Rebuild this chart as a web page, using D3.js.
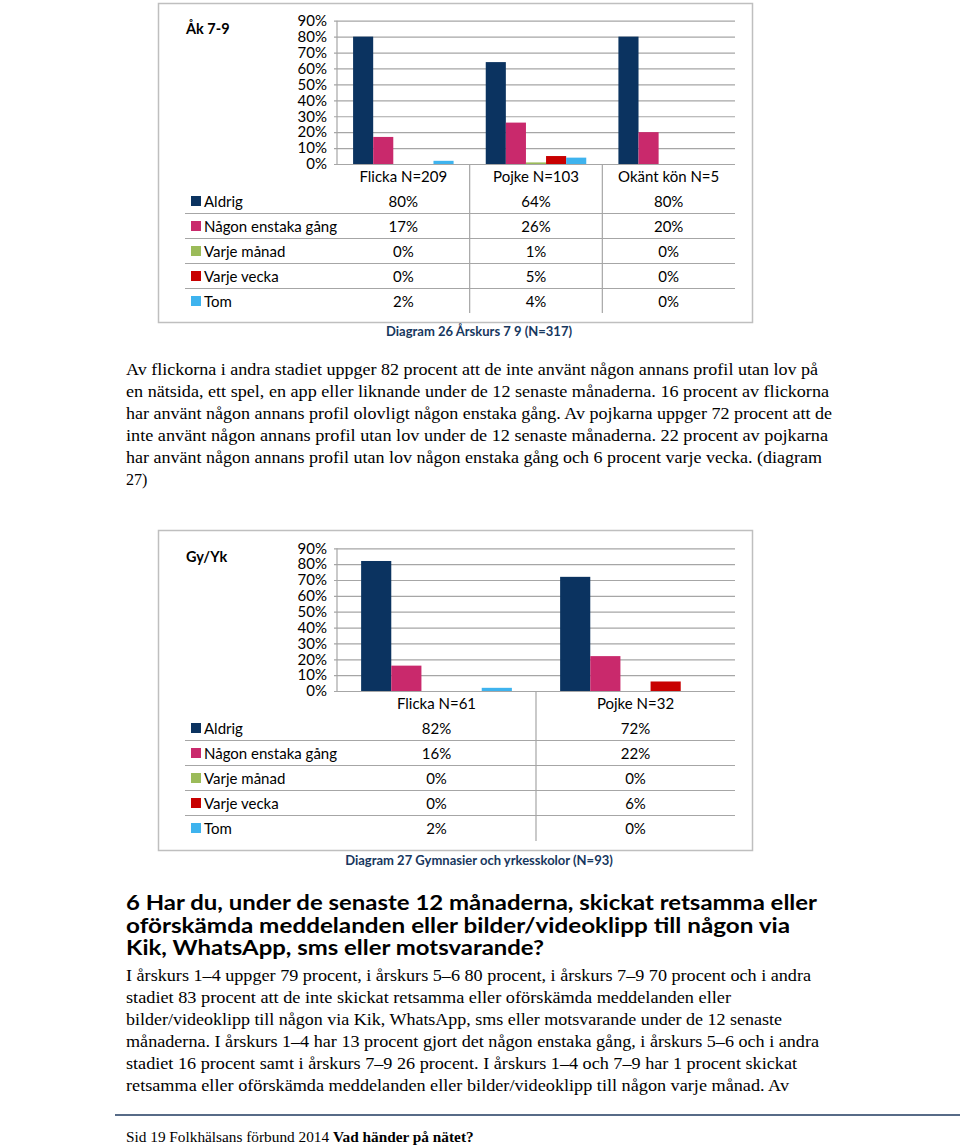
<!DOCTYPE html>
<html><head><meta charset="utf-8">
<script src="https://cdn.jsdelivr.net/npm/d3@7"></script>
<style>
body{margin:0;background:#fff;}
svg{display:block;}
</style></head>
<body>
<svg id="c" width="960" height="1145"></svg>
<script>
// ---------- data ----------
const seriesNames = ["Aldrig", "Någon enstaka gång", "Varje månad", "Varje vecka", "Tom"];
const seriesColors = ["#0B3360", "#C9296C", "#9BBB59", "#C80000", "#3EB3EE"];
const yTicks = [0, 10, 20, 30, 40, 50, 60, 70, 80, 90];

const cats1 = ["Flicka N=209", "Pojke N=103", "Okänt kön N=5"];
const aldrig1 = [80, 64, 80];
const nagon1 = [17, 26, 20];
const manad1 = [0, 1, 0];
const vecka1 = [0, 5, 0];
const tom1 = [2, 4, 0];

const cats2 = ["Flicka N=61", "Pojke N=32"];
const aldrig2 = [82, 72];
const nagon2 = [16, 22];
const manad2 = [0, 0];
const vecka2 = [0, 6];
const tom2 = [2, 0];

const para1 = [
  "Av flickorna i andra stadiet uppger 82 procent att de inte använt någon annans profil utan lov på",
  "en nätsida, ett spel, en app eller liknande under de 12 senaste månaderna. 16 procent av flickorna",
  "har använt någon annans profil olovligt någon enstaka gång. Av pojkarna uppger 72 procent att de",
  "inte använt någon annans profil utan lov under de 12 senaste månaderna. 22 procent av pojkarna",
  "har använt någon annans profil utan lov någon enstaka gång och 6 procent varje vecka. (diagram",
  "27)"
];
const para1W = [692, 703, 706, 702, 696, 0];
const heading = [
  "6 Har du, under de senaste 12 månaderna, skickat retsamma eller",
  "oförskämda meddelanden eller bilder/videoklipp till någon via",
  "Kik, WhatsApp, sms eller motsvarande?"
];
const headingW = [691, 664, 418];
const para2 = [
  "I årskurs 1–4 uppger 79 procent, i årskurs 5–6 80 procent, i årskurs 7–9 70 procent och i andra",
  "stadiet 83 procent att de inte skickat retsamma eller oförskämda meddelanden eller",
  "bilder/videoklipp till någon via Kik, WhatsApp, sms eller motsvarande under de 12 senaste",
  "månaderna. I årskurs 1–4 har 13 procent gjort det någon enstaka gång, i årskurs 5–6 och i andra",
  "stadiet 16 procent samt i årskurs 7–9 26 procent. I årskurs 1–4 och 7–9 har 1 procent skickat",
  "retsamma eller oförskämda meddelanden eller bilder/videoklipp till någon varje månad. Av"
];
const para2W = [685, 605, 656, 693, 671, 663];

// ---------- drawing ----------
const svg = d3.select("#c");
const SANS = "Lato, 'Open Sans', sans-serif";
const SERIF = "'Liberation Serif', 'DejaVu Serif', serif";

function drawChart(cfg) {
  const {cats, values, frame, plot, title, caption, rowY0, headerY, tableBottom} = cfg;
  const g = svg.append("g");
  g.append("rect").attr("x", frame.x + 0.5).attr("y", frame.y + 0.5)
    .attr("width", frame.w).attr("height", frame.h)
    .attr("fill", "#fff").attr("stroke", "#BFBFBF").attr("stroke-width", 1.5);
  g.append("text").attr("x", frame.x + 28).attr("y", plot.top + 8)
    .attr("dominant-baseline", "central")
    .style("font-family", SANS).style("font-weight", "bold").style("font-size", "14.5px")
    .attr("fill", "#000").text(title);

  const y = d3.scaleLinear().domain([0, 90]).range([plot.bottom, plot.top]);
  const x0 = d3.scaleBand().domain(cats).range([plot.left, plot.right]).paddingInner(0).paddingOuter(0);
  const x1 = d3.scaleBand().domain(seriesNames).range([0, x0.bandwidth()]).paddingInner(0).paddingOuter(0.8);

  const yAxis = d3.axisLeft(y).tickValues(yTicks).tickSize(-(plot.right - plot.left + 3)).tickFormat(d => d + "%");
  const ag = g.append("g").attr("transform", `translate(${plot.left - 3},0)`).call(yAxis);
  ag.select(".domain").remove();
  ag.selectAll(".tick line").attr("stroke", "#A6A6A6").attr("stroke-width", 1.2);
  ag.selectAll(".tick text").attr("x", -7).attr("dx", 0)
    .style("font-family", SANS).style("font-size", "15px").attr("fill", "#000");
  g.append("line").attr("x1", plot.left).attr("x2", plot.left)
    .attr("y1", plot.top).attr("y2", plot.bottom).attr("stroke", "#A6A6A6").attr("stroke-width", 1.2);

  values.forEach((vals, si) => {
    g.append("g").selectAll("rect").data(vals).join("rect")
      .attr("x", (d, i) => x0(cats[i]) + x1(seriesNames[si]))
      .attr("width", x1.bandwidth())
      .attr("y", d => y(d))
      .attr("height", d => y(0) - y(d))
      .attr("fill", seriesColors[si]);
  });

  const bounds = cats.slice(1).map(c => x0(c));
  g.selectAll("line.vsep").data(bounds).join("line")
    .attr("x1", d => d).attr("x2", d => d)
    .attr("y1", plot.bottom).attr("y2", tableBottom)
    .attr("stroke", "#A6A6A6").attr("stroke-width", 1.2);
  g.selectAll("text.hdr").data(cats).join("text")
    .attr("x", d => x0(d) + x0.bandwidth() / 2).attr("y", headerY)
    .attr("text-anchor", "middle").attr("dominant-baseline", "central")
    .style("font-family", SANS).style("font-size", "15px").attr("fill", "#000").text(d => d);
  const seps = seriesNames.slice(1).map((s, i) => rowY0 + (i + 0.5) * 25);
  g.selectAll("line.hsep").data(seps).join("line")
    .attr("x1", frame.x + 27).attr("x2", plot.right)
    .attr("y1", d => d).attr("y2", d => d)
    .attr("stroke", "#A6A6A6").attr("stroke-width", 1.2);
  seriesNames.forEach((s, si) => {
    const ry = rowY0 + si * 25;
    g.append("rect").attr("x", frame.x + 33).attr("y", ry - 5).attr("width", 10).attr("height", 10)
      .attr("fill", seriesColors[si]);
    g.append("text").attr("x", frame.x + 46).attr("y", ry).attr("dominant-baseline", "central")
      .style("font-family", SANS).style("font-size", "15px").attr("fill", "#000").text(s);
    g.selectAll(null).data(values[si]).join("text")
      .attr("x", (d, i) => x0(cats[i]) + x0.bandwidth() / 2).attr("y", ry)
      .attr("text-anchor", "middle").attr("dominant-baseline", "central")
      .style("font-family", SANS).style("font-size", "15px").attr("fill", "#000")
      .text(d => d + "%");
  });
  g.append("text").attr("x", caption.x).attr("y", caption.y)
    .attr("text-anchor", "middle").attr("dominant-baseline", "central")
    .style("font-family", SANS).style("font-weight", "bold").style("font-size", "13px")
    .attr("fill", "#17375E").text(caption.text);
}

drawChart({
  cats: cats1,
  values: [aldrig1, nagon1, manad1, vecka1, tom1],
  frame: {x: 158, y: 3, w: 594, h: 319},
  plot: {left: 337, right: 735, top: 20.7, bottom: 164},
  title: "Åk 7-9",
  caption: {x: 479, y: 331, text: "Diagram 26 Årskurs 7 9 (N=317)"},
  headerY: 176, rowY0: 201, tableBottom: 313
});

drawChart({
  cats: cats2,
  values: [aldrig2, nagon2, manad2, vecka2, tom2],
  frame: {x: 158, y: 530, w: 594, h: 320},
  plot: {left: 337, right: 735, top: 548.3, bottom: 691},
  title: "Gy/Yk",
  caption: {x: 479, y: 860, text: "Diagram 27 Gymnasier och yrkesskolor (N=93)"},
  headerY: 703, rowY0: 728, tableBottom: 841
});

function textBlock(lines, widths, x, y0, lh, font, size, weight) {
  lines.forEach((t, i) => {
    const el = svg.append("text").attr("x", x).attr("y", y0 + i * lh)
      .attr("dominant-baseline", "central")
      .style("font-family", font).style("font-size", size + "px").style("font-weight", weight)
      .attr("fill", "#000").text(t);
    if (widths[i]) el.attr("textLength", widths[i]).attr("lengthAdjust", "spacingAndGlyphs");
  });
}
textBlock(para1, para1W, 126, 369, 22, SERIF, 16, "normal");
textBlock(heading, headingW, 126, 902, 22.5, SANS, 20, "bold");
textBlock(para2, para2W, 126, 975, 22, SERIF, 16, "normal");

svg.append("line").attr("x1", 115).attr("x2", 960).attr("y1", 1115).attr("y2", 1115)
  .attr("stroke", "#1F3A5F").attr("stroke-width", 1.5);
const ft = svg.append("text").attr("x", 126).attr("y", 1136).attr("dominant-baseline", "central")
  .style("font-family", SERIF).style("font-size", "15.3px").attr("fill", "#000");
ft.append("tspan").text("Sid 19 Folkhälsans förbund 2014 ");
ft.append("tspan").style("font-weight", "bold").text("Vad händer på nätet?");
</script>
</body></html>
